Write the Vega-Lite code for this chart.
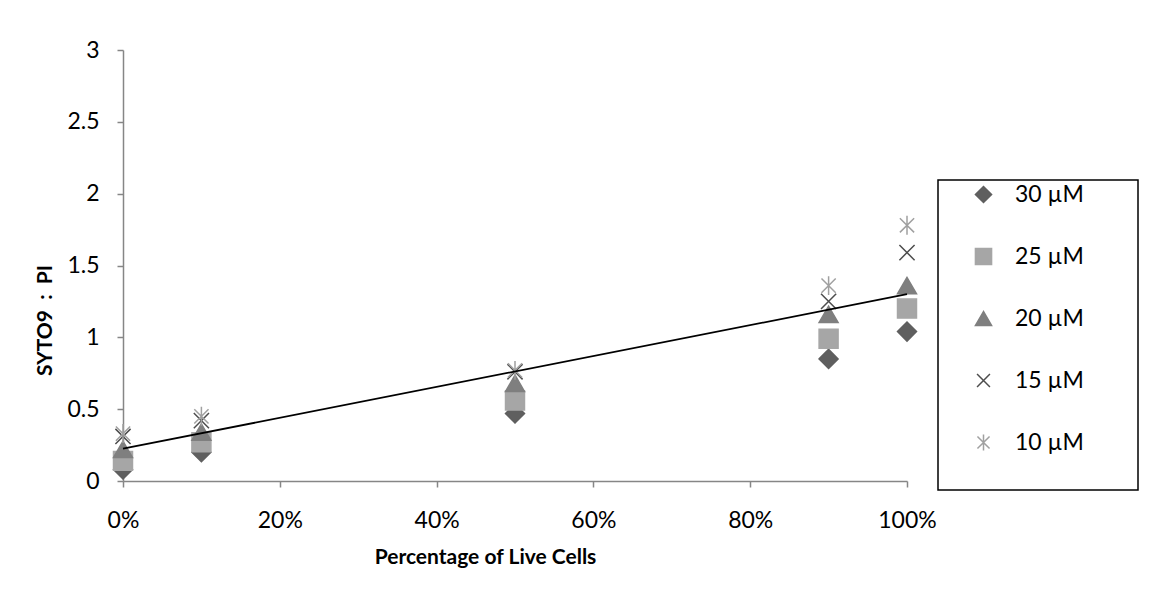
{
  "$schema": "https://vega.github.io/schema/vega-lite/v6.json",
  "autosize": "none",
  "width": 784,
  "height": 431,
  "padding": {"left": 123, "top": 50, "right": 242, "bottom": 109},
  "background": "white",
  "config": {
    "view": {"stroke": null},
    "font": "Lato",
    "legend": {"strokeWidth": 1.5},
    "axis": {
      "domainColor": "#868686",
      "tickColor": "#868686",
      "domainWidth": 1.5,
      "tickWidth": 1.5,
      "tickSize": 6,
      "grid": false,
      "labelFlush": false,
      "labelColor": "#000000",
      "labelFont": "Lato",
      "labelFontSize": 23,
      "titleFont": "Lato",
      "titleFontWeight": "bold",
      "titleFontSize": 21,
      "titleColor": "#000000"
    }
  },
  "datasets": {
    "points": [
      {"live": 0.0, "ratio": 0.08, "series": "30 µM"},
      {"live": 0.1, "ratio": 0.20, "series": "30 µM"},
      {"live": 0.5, "ratio": 0.47, "series": "30 µM"},
      {"live": 0.9, "ratio": 0.85, "series": "30 µM"},
      {"live": 1.0, "ratio": 1.04, "series": "30 µM"},
      {"live": 0.0, "ratio": 0.14, "series": "25 µM"},
      {"live": 0.1, "ratio": 0.27, "series": "25 µM"},
      {"live": 0.5, "ratio": 0.56, "series": "25 µM"},
      {"live": 0.9, "ratio": 0.99, "series": "25 µM"},
      {"live": 1.0, "ratio": 1.20, "series": "25 µM"},
      {"live": 0.0, "ratio": 0.22, "series": "20 µM"},
      {"live": 0.1, "ratio": 0.34, "series": "20 µM"},
      {"live": 0.5, "ratio": 0.68, "series": "20 µM"},
      {"live": 0.9, "ratio": 1.16, "series": "20 µM"},
      {"live": 1.0, "ratio": 1.36, "series": "20 µM"},
      {"live": 0.0, "ratio": 0.31, "series": "15 µM"},
      {"live": 0.1, "ratio": 0.42, "series": "15 µM"},
      {"live": 0.5, "ratio": 0.76, "series": "15 µM"},
      {"live": 0.9, "ratio": 1.25, "series": "15 µM"},
      {"live": 1.0, "ratio": 1.59, "series": "15 µM"},
      {"live": 0.0, "ratio": 0.33, "series": "10 µM"},
      {"live": 0.1, "ratio": 0.45, "series": "10 µM"},
      {"live": 0.5, "ratio": 0.77, "series": "10 µM"},
      {"live": 0.9, "ratio": 1.36, "series": "10 µM"},
      {"live": 1.0, "ratio": 1.78, "series": "10 µM"}
    ],
    "trend": [
      {"live": 0.0, "ratio": 0.225},
      {"live": 1.0, "ratio": 1.30}
    ]
  },
  "layer": [
    {
      "data": {"name": "points"},
      "mark": {"type": "point", "filled": false, "size": 360, "strokeWidth": 1.5, "opacity": 1},
      "encoding": {
        "x": {
          "field": "live", "type": "quantitative",
          "scale": {"domain": [0, 1]},
          "axis": {"values": [0, 0.2, 0.4, 0.6, 0.8, 1], "format": ".0%", "labelPadding": 22, "title": "Percentage of Live Cells", "titleX": 362, "titleY": 65, "titleAnchor": "middle", "titleAlign": "center", "titleBaseline": "top"}
        },
        "y": {
          "field": "ratio", "type": "quantitative",
          "scale": {"domain": [0, 3]},
          "axis": {"values": [0, 0.5, 1, 1.5, 2, 2.5, 3], "format": "~g", "labelPadding": 18, "title": "SYTO9\u00a0\u00a0:\u00a0\u00a0PI", "titleX": -68, "titleY": 270, "titleAngle": 270, "titleAlign": "center", "titleBaseline": "bottom"}
        },
        "shape": {
          "field": "series", "type": "nominal",
          "scale": {
            "domain": ["30 µM", "25 µM", "20 µM", "15 µM", "10 µM"],
            "range": ["diamond", "square", "triangle-up", "M-0.8,-0.8L0.8,0.8M0.8,-0.8L-0.8,0.8", "M-0.75,-0.75L0.75,0.75M0.75,-0.75L-0.75,0.75M0,-1L0,1"]
          },
          "legend": {
            "orient": "none", "legendX": 815, "legendY": 130,
            "title": "\u00a0", "titleOrient": "bottom", "titleFontSize": 20, "titlePadding": 12,
            "strokeColor": "#000000", "fillColor": "white",
            "padding": 3, "rowPadding": 38, "symbolSize": 260, "symbolStrokeWidth": 1.5,
            "symbolOffset": 31, "labelOffset": 20, "labelFontSize": 23, "labelFont": "Lato", "labelColor": "#000000",
            "labelLimit": 300,
            "labelExpr": "datum.label + '\u2800\u2800\u2800'"
          }
        },
        "fill": {
          "field": "series", "type": "nominal",
          "scale": {
            "domain": ["30 µM", "25 µM", "20 µM", "15 µM", "10 µM"],
            "range": ["#5f5f5f", "#a6a6a6", "#7f7f7f", "#4d4d4d", "#a0a0a0"]
          }
        },
        "stroke": {
          "field": "series", "type": "nominal",
          "scale": {
            "domain": ["30 µM", "25 µM", "20 µM", "15 µM", "10 µM"],
            "range": ["#5f5f5f", "#a6a6a6", "#7f7f7f", "#4d4d4d", "#a0a0a0"]
          }
        }
      }
    },
    {
      "data": {"name": "trend"},
      "mark": {"type": "line", "color": "#000000", "strokeWidth": 1.8},
      "encoding": {
        "x": {"field": "live", "type": "quantitative"},
        "y": {"field": "ratio", "type": "quantitative"}
      }
    }
  ]
}
